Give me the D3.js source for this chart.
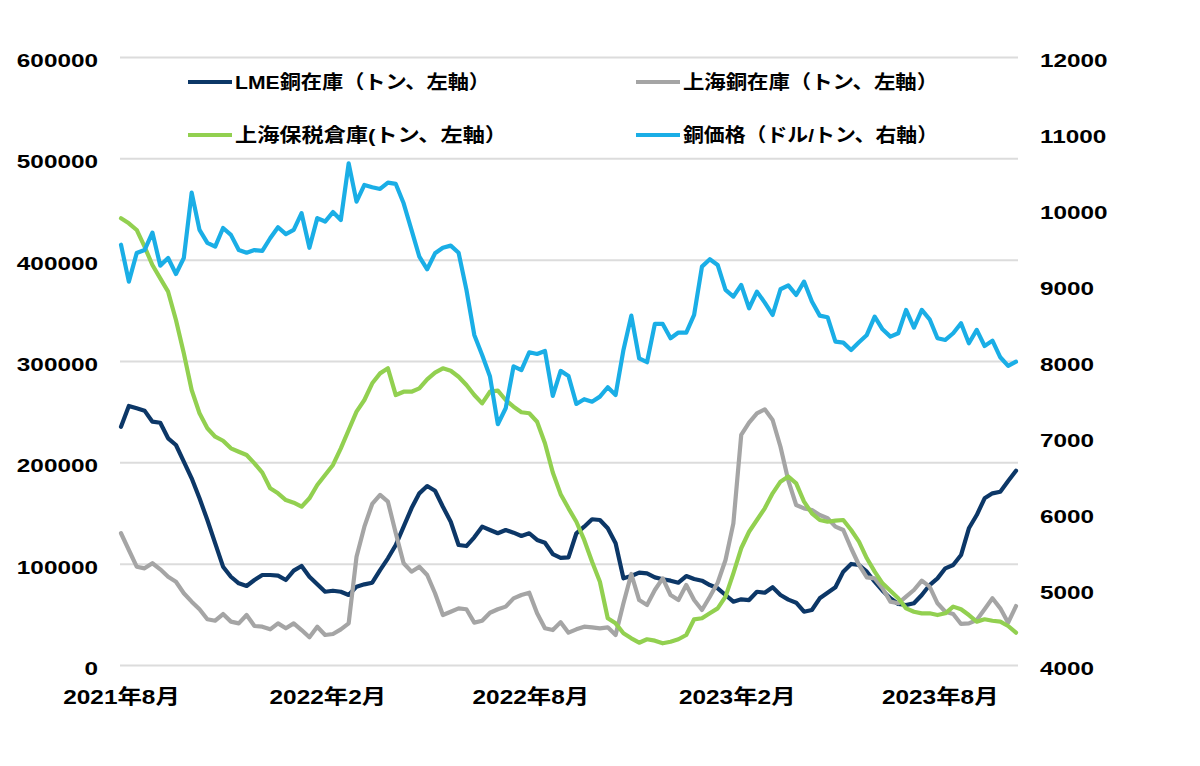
<!DOCTYPE html>
<html>
<head>
<meta charset="utf-8">
<script src="https://cdn.jsdelivr.net/npm/d3@7"></script>
<style>
  body { margin: 0; background: #fff; }
  text { font-family: "Liberation Sans", Arial, "Noto Sans CJK JP", sans-serif; font-weight: bold; fill: #000; }
</style>
</head>
<body>
<svg id="chart"></svg>
<script>
// weekly observations, first one on 2021-08-01
const startDate = new Date(2021, 7, 1)

const lmeStock = [235150, 255600, 253300, 251000, 240100, 239100, 223700, 217100, 200600, 184200,
  164500, 143100, 120100, 97000, 87100, 80600, 78000, 83900, 88800, 88800,
  88200, 83900, 93100, 97700, 87100, 79600, 72300, 73300, 72300, 69100,
  77300, 79600, 81200, 93700, 105300, 118400, 136500, 154600, 169400, 176600,
  172000, 156200, 141400, 118400, 117400, 126000, 136500, 133200, 130000, 133200,
  130600, 127300, 130000, 123400, 120700, 109500, 105800, 106300, 130000, 136500,
  143800, 143100, 134900, 120100, 85500, 87800, 91100, 90400, 86500, 84600,
  83200, 81200, 87800, 84900, 83200, 78900, 75700, 69100, 62500, 64800,
  64100, 72300, 71300, 76700, 69100, 64500, 61500, 52600, 54300, 65800,
  71300, 76700, 92100, 99700, 98700, 92100, 82200, 73300, 65800, 60200,
  59200, 60900, 69100, 78900, 85500, 95400, 98700, 108500, 134900, 148000,
  164500, 169400, 171000, 181600, 191700]

const shanghaiStock = [130000, 113500, 97000, 95400, 100400, 94400, 87100, 82200, 70800, 62500,
  55000, 45100, 43700, 50300, 42800, 41100, 49300, 38500, 37800, 35200,
  41100, 36200, 41100, 34500, 27300, 37800, 29600, 30600, 35200, 41100,
  106900, 136500, 158900, 167800, 161200, 130000, 100400, 92100, 97000, 88800,
  70800, 49300, 52600, 55900, 55000, 41800, 43700, 51600, 55000, 57600,
  65800, 69100, 71300, 51000, 36200, 34500, 42300, 31900, 35200, 37800,
  37200, 36200, 37200, 29600, 60900, 89800, 64100, 59200, 74000, 85500,
  69100, 64100, 78900, 64100, 54300, 67400, 81200, 103600, 139800, 227000,
  239100, 248400, 252300, 241800, 215400, 182000, 157900, 154600, 153000, 148000,
  144800, 136500, 133200, 115200, 98700, 86500, 85500, 75700, 62500, 60900,
  67400, 74000, 83200, 77300, 60900, 52600, 50300, 40500, 41100, 44400,
  55000, 65800, 55900, 41800, 58200]

const bondedStock = [440800, 435900, 429300, 412800, 394700, 381600, 368400, 340400, 307600, 271400,
  248400, 233600, 225300, 221300, 213800, 210500, 207200, 199000, 189800, 174400,
  169400, 162800, 160200, 156200, 164500, 177600, 187500, 197400, 213800, 231900,
  250000, 261500, 278000, 287800, 292800, 266400, 269700, 269700, 273000, 281900,
  288500, 292800, 290400, 284500, 276300, 266400, 258200, 269700, 270700, 261500,
  254900, 249400, 248400, 240100, 218800, 190000, 168600, 154600, 141400, 123400,
  101900, 82200, 46100, 41100, 31300, 26300, 22000, 25400, 24000, 21400,
  23000, 25400, 29600, 45100, 46100, 51000, 55900, 67400, 90500, 115200,
  131500, 143100, 154600, 169400, 180900, 186000, 179300, 161200, 149700, 143100,
  141400, 142400, 143100, 133200, 121700, 105300, 92100, 80600, 73300, 65800,
  55900, 52600, 51000, 51000, 49300, 51000, 57600, 55000, 49300, 42800,
  45100, 43700, 42800, 38500, 31900]

const copperPrice = [9530, 9045, 9420, 9460, 9690, 9255, 9355, 9145, 9355, 10215,
  9725, 9555, 9505, 9750, 9660, 9460, 9425, 9460, 9450, 9615,
  9760, 9670, 9725, 9945, 9490, 9880, 9835, 9960, 9855, 10600,
  10097, 10317, 10286, 10264, 10347, 10330, 10075, 9725, 9373, 9207,
  9417, 9490, 9518, 9425, 8935, 8343, 8080, 7795, 7168, 7378,
  7930, 7880, 8115, 8093, 8132, 7540, 7870, 7803, 7435, 7497,
  7465, 7531, 7655, 7553, 8145, 8597, 8036, 7984, 8488, 8488,
  8300, 8374, 8374, 8606, 9242, 9339, 9264, 8935, 8847, 9001,
  8694, 8913, 8768, 8606, 8944, 8995, 8869, 9045, 8782, 8597,
  8576, 8255, 8242, 8145, 8247, 8343, 8584, 8417, 8321, 8365,
  8672, 8439, 8672, 8549, 8300, 8277, 8365, 8497, 8233, 8409,
  8198, 8268, 8049, 7935, 7991]

const seriesNames = ["LME銅在庫（トン、左軸）", "上海銅在庫（トン、左軸）", "上海保税倉庫(トン、左軸）", "銅価格（ドル/トン、右軸）"]
const leftTicks = [0, 100000, 200000, 300000, 400000, 500000, 600000]
const rightTicks = [4000, 5000, 6000, 7000, 8000, 9000, 10000, 11000, 12000]
const monthTicks = [new Date(2021, 7, 1), new Date(2022, 1, 1), new Date(2022, 7, 1), new Date(2023, 1, 1), new Date(2023, 7, 1)]

const width = 1200
const height = 766
const plot = { left: 120, right: 1018, top: 57, bottom: 665 }
const stretchK = 1.28

const svg = d3.select("#chart").attr("width", width).attr("height", height)
svg.append("rect").attr("width", width).attr("height", height).attr("fill", "#fff")

const dates = lmeStock.map((d, i) => d3.timeDay.offset(startDate, i * 7))

const x = d3.scaleTime()
  .domain([dates[0], dates[dates.length - 1]])
  .range([plot.left + 1, plot.right - 2])
const yLeft = d3.scaleLinear().domain([0, 600000]).range([plot.bottom, plot.top])
const yRight = d3.scaleLinear().domain([4000, 12000]).range([plot.bottom, plot.top])

// widen text horizontally, the source picture is stretched
const stretch = (sel, k) => sel.each(function () {
  const w = this.getComputedTextLength()
  d3.select(this).attr("textLength", w * k).attr("lengthAdjust", "spacingAndGlyphs")
})

// left axis + gridlines
const gLeft = svg.append("g")
  .attr("transform", `translate(${plot.left},0)`)
  .call(d3.axisLeft(yLeft).tickValues(leftTicks).tickFormat(d3.format("d"))
    .tickSize(-(plot.right - plot.left)).tickPadding(22))
gLeft.select(".domain").remove()
gLeft.selectAll(".tick line").attr("stroke", "#dcdcdc").attr("stroke-width", 2)
gLeft.selectAll(".tick text")
  .attr("dy", "0.5em")
  .style("font-size", "19px")
  .call(stretch, stretchK)

// right axis
const gRight = svg.append("g")
  .attr("transform", `translate(${plot.right},0)`)
  .call(d3.axisRight(yRight).tickValues(rightTicks).tickFormat(d3.format("d"))
    .tickSize(0).tickPadding(22))
gRight.select(".domain").remove()
gRight.selectAll(".tick text")
  .attr("dy", "0.5em")
  .style("font-size", "19px")
  .call(stretch, stretchK)

// bottom axis
const gBottom = svg.append("g")
  .attr("transform", `translate(0,${plot.bottom})`)
  .call(d3.axisBottom(x).tickValues(monthTicks).tickFormat(d3.timeFormat("%Y年%-m月")).tickSize(0))
gBottom.select(".domain").remove()
gBottom.selectAll(".tick text")
  .attr("y", 39)
  .attr("dy", 0)
  .style("font-size", "20px")
  .call(stretch, 1.22)

// lines
const leftLine = d3.line().x((d, i) => x(dates[i])).y(d => yLeft(d))
const rightLine = d3.line().x((d, i) => x(dates[i])).y(d => yRight(d))

const colors = ["#0c3767", "#a5a5a5", "#92d050", "#1aaee6"]
const series = [
  { values: lmeStock, line: leftLine },
  { values: shanghaiStock, line: leftLine },
  { values: bondedStock, line: leftLine },
  { values: copperPrice, line: rightLine }
]

svg.append("g").selectAll("path")
  .data(series)
  .join("path")
  .attr("d", d => d.line(d.values))
  .attr("fill", "none")
  .attr("stroke", (d, i) => colors[i])
  .attr("stroke-width", 4.2)
  .attr("stroke-linejoin", "round")
  .attr("stroke-linecap", "round")

// legend, 2 x 2
const legendPos = [
  { x: 188, y: 82, w: 255 },
  { x: 636, y: 82, w: 255 },
  { x: 188, y: 135, w: 272 },
  { x: 636, y: 135, w: 255 }
]
const legend = svg.append("g").selectAll("g")
  .data(seriesNames)
  .join("g")
  .attr("transform", (d, i) => `translate(${legendPos[i].x},${legendPos[i].y})`)
legend.append("line")
  .attr("x1", 0).attr("x2", 44)
  .attr("stroke", (d, i) => colors[i])
  .attr("stroke-width", 4)
legend.append("text")
  .attr("x", 47)
  .attr("y", 7)
  .style("font-size", "19px")
  .text(d => d)
  .attr("textLength", (d, i) => legendPos[i].w)
  .attr("lengthAdjust", "spacingAndGlyphs")
</script>
</body>
</html>
